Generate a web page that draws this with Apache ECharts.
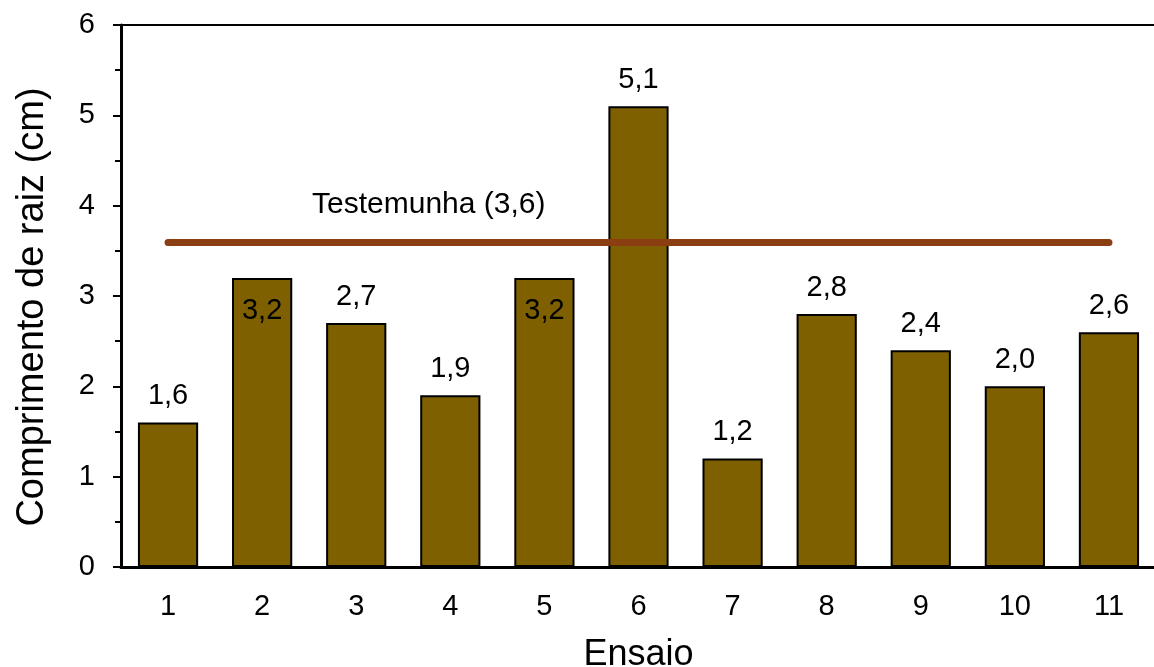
<!DOCTYPE html>
<html>
<head>
<meta charset="utf-8">
<script src="https://cdn.jsdelivr.net/npm/echarts@6/dist/echarts.min.js"></script>
<style>
  html, body { margin: 0; padding: 0; background: #fff; }
  #chart { width: 1154px; height: 667px; }
</style>
</head>
<body>
<div id="chart"></div>
<script>
// Root length per trial, with the control value drawn as a reference line
const ensaios = ['1', '2', '3', '4', '5', '6', '7', '8', '9', '10', '11'];
const comprimento = [1.6, 3.2, 2.7, 1.9, 3.2, 5.1, 1.2, 2.8, 2.4, 2.0, 2.6];
const insideLabels = ['2', '5'];
const testemunha = 3.6;
const yTicks = [0, 1, 2, 3, 4, 5, 6];

const FONT = 'Liberation Sans, Arial, sans-serif';
const fmt = v => v.toFixed(1).replace('.', ',');

const barData = comprimento.map((v, i) => {
  const inside = insideLabels.includes(ensaios[i]);
  return {
    value: v,
    label: inside ? { position: 'insideTop', distance: 19 } : { position: 'top', distance: 12 }
  };
});

const chart = echarts.init(document.getElementById('chart'), null, { renderer: 'canvas' });
chart.setOption({
  animation: false,
  backgroundColor: '#ffffff',
  textStyle: { fontFamily: FONT },
  grid: { left: 121, right: -2, top: 25, bottom: 100, containLabel: false, outerBoundsMode: 'none' },
  xAxis: [{
    type: 'category',
    data: ensaios,
    boundaryGap: true,
    name: 'Ensaio',
    nameLocation: 'middle',
    nameGap: 70,
    nameTextStyle: { fontSize: 36, color: '#000', fontFamily: FONT },
    axisLine: { show: true, lineStyle: { color: '#000', width: 3 } },
    axisTick: { show: false },
    axisLabel: { fontSize: 29, color: '#000', margin: 25, fontFamily: FONT }
  }, {
    type: 'category',
    data: ensaios,
    position: 'top',
    axisLine: { show: true, onZero: false, lineStyle: { color: '#000', width: 2 } },
    axisTick: { show: false },
    axisLabel: { show: false }
  }],
  yAxis: {
    type: 'value',
    min: yTicks[0],
    max: yTicks[yTicks.length - 1],
    interval: 1,
    name: 'Comprimento de raiz (cm)',
    nameLocation: 'middle',
    nameGap: 69,
    nameTextStyle: { fontSize: 38, color: '#000', fontFamily: FONT, padding: [0, 22, 0, 0] },
    axisLine: { show: true, lineStyle: { color: '#000', width: 3 } },
    axisTick: { show: true, inside: false, length: 8, lineStyle: { color: '#000', width: 2 } },
    minorTick: { show: true, splitNumber: 2, length: 6, lineStyle: { color: '#000', width: 2 } },
    splitLine: { show: false },
    axisLabel: { fontSize: 29, color: '#000', margin: 26, fontFamily: FONT }
  },
  series: [{
    type: 'bar',
    data: barData,
    barWidth: '64%',
    itemStyle: { color: '#7F6000', borderColor: '#000', borderWidth: 2 },
    label: {
      show: true,
      fontSize: 29,
      color: '#000',
      fontFamily: FONT,
      formatter: p => fmt(p.value)
    },
    markLine: {
      silent: true,
      symbol: ['none', 'none'],
      lineStyle: { color: '#8B3E12', width: 7, type: 'solid', cap: 'round' },
      label: {
        show: true,
        position: 'insideStartTop',
        formatter: 'Testemunha (' + fmt(testemunha) + ')',
        fontSize: 30,
        color: '#000',
        fontFamily: FONT,
        padding: [0, 0, 17, 139]
      },
      data: [[
        { coord: [ensaios[0], testemunha] },
        { coord: [ensaios[ensaios.length - 1], testemunha] }
      ]]
    }
  }]
});
</script>
</body>
</html>
